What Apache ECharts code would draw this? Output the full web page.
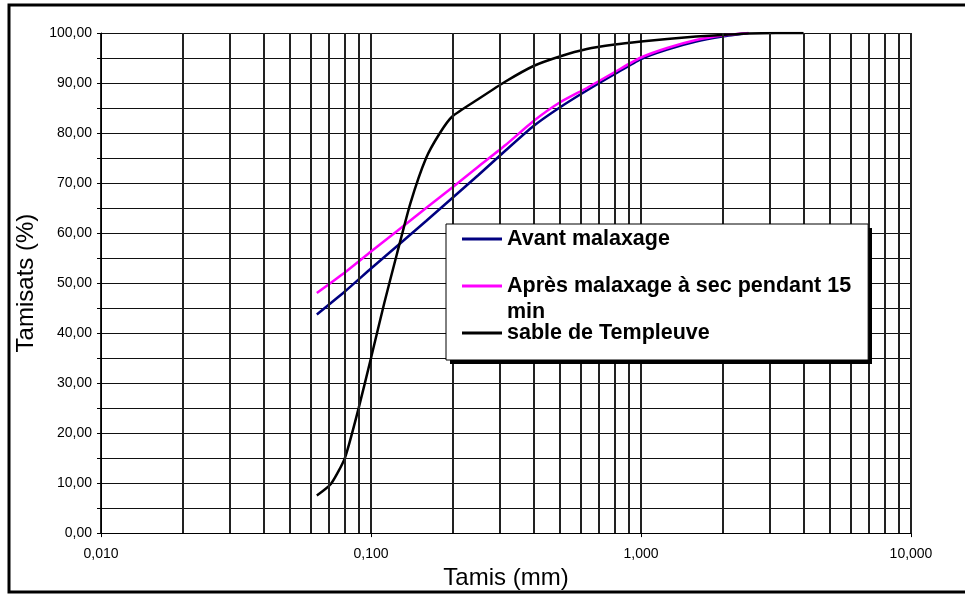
<!DOCTYPE html>
<html>
<head>
<meta charset="utf-8">
<script src="https://cdn.jsdelivr.net/npm/echarts@6/dist/echarts.min.js"></script>
<style>html,body{margin:0;padding:0;background:#fff}#c{width:965px;height:595px}</style>
</head>
<body>
<div id="c"></div>
<script>
// Sieve sizes (mm) and passing percentages
var sizesAvant = [0.063, 0.08, 0.1, 0.125, 0.16, 0.2, 0.25, 0.315, 0.4, 0.5, 0.63, 0.8, 1, 1.25, 1.6, 2, 2.5];
var avantMalaxage = [43.7, 48.3, 52.9, 57.4, 62.4, 67.0, 71.6, 76.5, 81.4, 85.1, 88.5, 91.8, 94.8, 96.7, 98.3, 99.3, 100];
var apresMalaxage = [48.0, 52.1, 56.3, 60.4, 65.0, 69.1, 73.3, 77.6, 82.4, 86.1, 89.0, 92.2, 95.1, 97.0, 98.6, 99.5, 100];
var sizesSable = [0.063, 0.071, 0.08, 0.09, 0.1, 0.112, 0.125, 0.14, 0.16, 0.18, 0.2, 0.25, 0.315, 0.4, 0.5, 0.63, 0.8, 1, 1.25, 1.6, 2, 2.5, 3.15, 4];
var sableTempleuve = [7.5, 9.8, 15.0, 25.0, 35.0, 46.0, 56.0, 66.0, 75.0, 80.0, 83.3, 86.8, 90.3, 93.4, 95.3, 96.8, 97.7, 98.3, 98.8, 99.3, 99.6, 99.9, 100, 100];
var seriesNames = ['Avant malaxage', 'Après malaxage à sec pendant 15 min', 'sable de Templeuve'];
var seriesColors = ['#000080', '#ff00ff', '#000000'];
// minor log grid values (mm)
var minorGrid = [0.02,0.03,0.04,0.05,0.06,0.07,0.08,0.09,0.2,0.3,0.4,0.5,0.6,0.7,0.8,0.9,2,3,4,5,6,7,8,9];

function pairs(xs, ys){ return xs.map(function(x,i){ return [x, ys[i]]; }); }
var FONT = '"Liberation Sans", Arial, sans-serif';

var chart = echarts.init(document.getElementById('c'));
chart.setOption({
  animation: false,
  backgroundColor: '#fff',
  graphic: [
    {
      type: 'rect', silent: true, z: 100,
      shape: { x: 9, y: 5, width: 980, height: 587 },
      style: { fill: 'none', stroke: '#000', lineWidth: 3 }
    },
    {
      type: 'rect', silent: true, z: 19,
      shape: { x: 450, y: 228, width: 422, height: 136 },
      style: { fill: '#000' }
    }
  ],
  grid: { left: 101, top: 33, width: 810, height: 507, show: false },
  legend: {
    data: seriesNames,
    orient: 'vertical',
    z: 20,
    left: 446, top: 224,
    padding: [2, 17, 14, 16],
    itemGap: -5,
    itemWidth: 40, itemHeight: 3,
    icon: 'rect',
    selectedMode: false,
    backgroundColor: '#ffffff',
    borderColor: '#000', borderWidth: 1,
    formatter: function(name){
      if (name === seriesNames[1]) return '\nAprès malaxage à sec pendant 15\nmin';
      return name;
    },
    textStyle: { fontFamily: FONT, fontWeight: 'bold', fontSize: 21.5, color: '#000', lineHeight: 26 }
  },
  xAxis: {
    type: 'log', logBase: 10, min: 0.01, max: 10,
    name: 'Tamis (mm)', nameLocation: 'middle', nameGap: 13,
    nameTextStyle: { fontFamily: FONT, fontSize: 24, color: '#000' },
    axisLine: { show: true, onZero: false, lineStyle: { color: '#000', width: 1 } },
    axisTick: { show: true, length: 4, lineStyle: { color: '#000' } },
    axisLabel: { fontFamily: FONT, fontSize: 14, color: '#000', margin: 14,
      formatter: function(v){ return Number(v).toFixed(3).replace('.', ','); } },
    splitLine: { show: true, lineStyle: { color: '#222', width: 2 } },
    minorTick: { show: false }, minorSplitLine: { show: false }
  },
  yAxis: {
    type: 'value', min: 0, max: 100, interval: 5,
    name: 'Tamisats (%)', nameLocation: 'middle', nameGap: 51,
    nameTextStyle: { fontFamily: FONT, fontSize: 24, color: '#000' },
    axisLine: { show: true, lineStyle: { color: '#000', width: 1 } },
    axisTick: { show: true, length: 4, lineStyle: { color: '#000' } },
    axisLabel: { fontFamily: FONT, fontSize: 14, color: '#000', margin: 9,
      formatter: function(v){ return v % 10 === 0 ? v.toFixed(2).replace('.', ',') : ''; } },
    splitLine: { show: true, lineStyle: { color: '#111', width: 1 } }
  },
  series: [
    {
      type: 'line', name: 'grid', data: [], z: 1, silent: true,
      markLine: {
        silent: true, symbol: ['none', 'none'], animation: false,
        label: { show: false },
        lineStyle: { color: '#222', width: 2, type: 'solid' },
        emphasis: { disabled: true },
        data: minorGrid.map(function(v){ return { xAxis: v }; })
      }
    },
    { type: 'line', name: seriesNames[0], data: pairs(sizesAvant, avantMalaxage), z: 3,
      showSymbol: false, smooth: 0.2, color: seriesColors[0], lineStyle: { width: 2.5, color: seriesColors[0] } },
    { type: 'line', name: seriesNames[1], data: pairs(sizesAvant, apresMalaxage), z: 3,
      showSymbol: false, smooth: 0.2, color: seriesColors[1], lineStyle: { width: 2.5, color: seriesColors[1] } },
    { type: 'line', name: seriesNames[2], data: pairs(sizesSable, sableTempleuve), z: 3,
      showSymbol: false, smooth: 0.2, color: seriesColors[2], lineStyle: { width: 2.5, color: seriesColors[2] } }
  ]
});
</script>
</body>
</html>
